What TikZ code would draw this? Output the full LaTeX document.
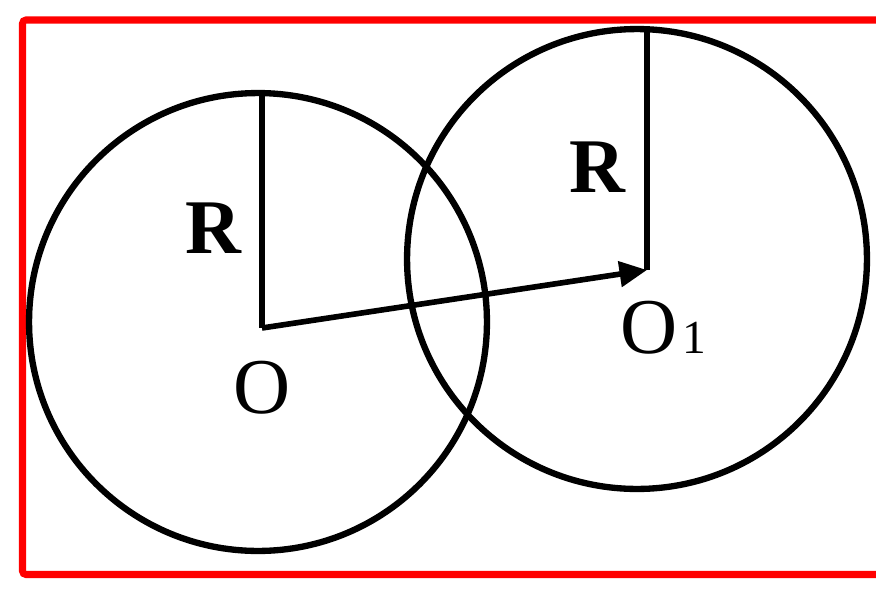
\documentclass[tikz,border=0pt]{standalone}
\usepackage{fontspec}
\setmainfont{LiberationSerif}[
    Extension=.ttf,
    UprightFont=*-Regular,
    BoldFont=*-Bold]
\usetikzlibrary{arrows.meta}

\definecolor{colFrame}{HTML}{FF0000}

\begin{document}
\begin{tikzpicture}[
    x=0.02cm, y=-0.02cm,
    circ/.style={draw, line width=3.6pt},
    radline/.style={line width=3pt},
    vecline/.style={line width=3.2pt, -{Triangle[length=0.55cm, width=0.5cm]}},
    frame/.style={draw=colFrame, line width=4pt, rounded corners=2pt},
    rlabel/.style={font=\fontsize{44}{44}\selectfont\bfseries, inner sep=0pt},
    olabel/.style={font=\fontsize{45}{45}\selectfont, inner sep=0pt}
]
\useasboundingbox (0,0) rectangle (876,589);

% ============================
% FRAME
% ============================
\draw[frame] (22.5,20) rectangle (920,574.5);

% ============================
% POINTS
% ============================
\coordinate (cLeft)  at (258,322);
\coordinate (cRight) at (637,259);
\coordinate (O)      at (262,328);
\coordinate (O1)     at (647,270);
\coordinate (topO)   at (262,95);
\coordinate (topO1)  at (647,30);

% ============================
% CIRCLES
% ============================
\draw[circ] (cLeft) circle[radius=4.58cm];
\draw[circ] (cRight) circle[radius=4.6cm];

% --- radii ---
\draw[radline] (topO) -- (O);
\draw[radline] (topO1) -- (O1);

% --- vector O -> O1 ---
\draw[vecline] (O) -- (O1);

% ============================
% LABELS
% ============================
\node[rlabel] (rLeft)  at (213,228) {R};
\node[rlabel] (rRight) at (597,167) {R};
\node[olabel] (oLeft)  at (262,388) {O};
\node[olabel, anchor=base west] (oRight) at (620,353)
    {O\kern3pt{\fontsize{27}{27}\selectfont 1}};

\end{tikzpicture}
\end{document}
